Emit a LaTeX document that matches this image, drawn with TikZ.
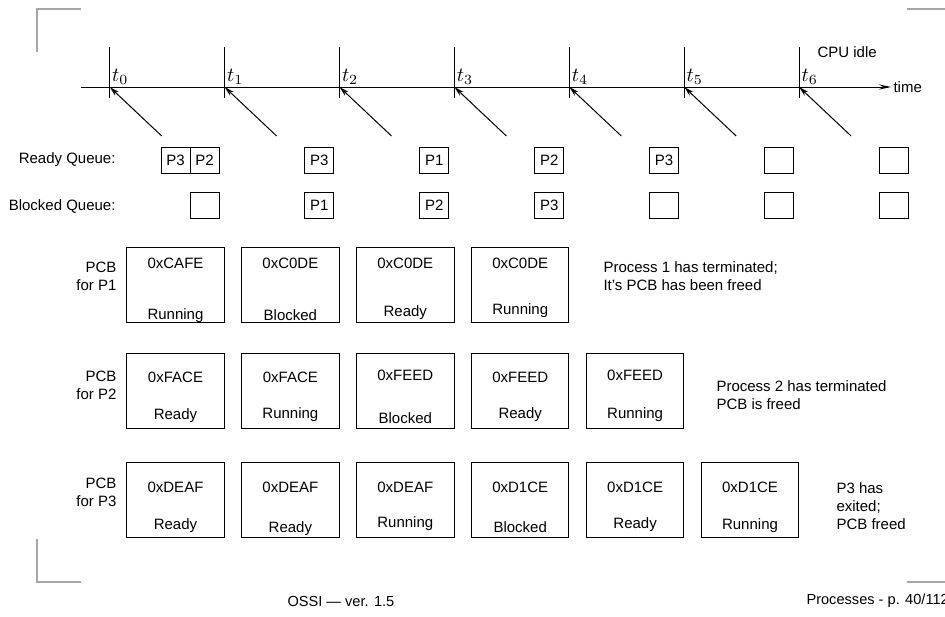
\documentclass[tikz,border=0pt]{standalone}
\usepackage{fontspec}
\setmainfont{Liberation Sans}
\usetikzlibrary{arrows.meta}
\begin{document}
\begin{tikzpicture}[x=0.5pt,y=-0.5pt,line width=0.5pt,
  every node/.style={font=\fontsize{7.5}{9}\selectfont},
  qbox/.style={draw,minimum width=14.5pt,minimum height=13pt,inner sep=0pt},
  pcb/.style={draw,minimum width=48.75pt,minimum height=37.5pt,inner sep=0pt},
  lbl/.style={inner sep=0pt},
  framemark/.style={gray!70,line width=0.8pt},
  arr/.style={-{Stealth[length=5pt,width=2.6pt]}}]
\useasboundingbox (0,0) rectangle (945,616);
% Slide frame
\draw[framemark] (37,52) -- (37,9) -- (81,9);
\draw[framemark] (907,9) -- (945,9);
\draw[framemark] (37,539) -- (37,582) -- (81,582);
\draw[framemark] (907,582) -- (945,582);
% Time axis
\coordinate (tlstart) at (81,87);
\node[anchor=west,inner sep=1pt] (time) at (891,87) {time};
\draw[-{Stealth[length=6pt,width=2.6pt]}] (tlstart) -- (time.west);
\node[lbl,anchor=west] (idle) at (817,52) {CPU idle};
\foreach \i in {0,...,6} {
  \pgfmathsetmacro\tx{109.7+114.9*\i}
  \coordinate (t\i) at (\tx,87);
  \coordinate (src\i) at (\tx+52,136);
  \draw (\tx,47) -- (\tx,98);
  \node[anchor=south west,inner sep=1pt,font=\fontsize{10}{12}\selectfont] (tl\i) at (t\i) {$t_\i$};
  \draw[arr] (src\i) -- (t\i);
}
% Queues
\node[lbl,anchor=east] (rqlab) at (116,160) {Ready Queue:};
\node[lbl,anchor=east] (bqlab) at (116,206) {Blocked Queue:};
\node[qbox] (r0a) at (175.5,160) {P3};
\node[qbox] (r0b) at (204.5,160) {P2};
\foreach \i/\p in {1/P3,2/P1,3/P2,4/P3,5/,6/}
  \node[qbox] (r\i) at (204.5+114.9*\i,160) {\p};
\foreach \i/\p in {0/,1/P1,2/P2,3/P3,4/,5/,6/}
  \node[qbox] (b\i) at (204.5+114.9*\i,205) {\p};
% PCBs of P1
\node[lbl,anchor=east,align=right] (pcblab1) at (117,276) {PCB\\for P1};
\foreach \i/\addr/\st/\sy in {0/0xCAFE/Running/316,1/0xC0DE/Blocked/315,2/0xC0DE/Ready/313,3/0xC0DE/Running/311} {
  \node[pcb] (pa\i) at (175.5+114.9*\i,284.5) {};
  \node[lbl] (pa\i addr) at (175.5+114.9*\i,263) {\addr};
  \node[lbl] (pa\i st) at (175.5+114.9*\i,\sy) {\st};
}
\node[lbl,anchor=west,align=left] (note1) at (603,276) {Process 1 has terminated;\\It's PCB has been freed};
% PCBs of P2
\node[lbl,anchor=east,align=right] (pcblab2) at (117,385) {PCB\\for P2};
\foreach \i/\addr/\ay/\st/\sy in {0/0xFACE/377/Ready/416,1/0xFACE/377/Running/415,2/0xFEED/375/Blocked/418,3/0xFEED/377/Ready/415,4/0xFEED/375/Running/415} {
  \node[pcb] (pb\i) at (175.5+114.9*\i,390.5) {};
  \node[lbl] (pb\i addr) at (175.5+114.9*\i,\ay) {\addr};
  \node[lbl] (pb\i st) at (175.5+114.9*\i,\sy) {\st};
}
\node[lbl,anchor=west,align=left] (note2) at (716,395) {Process 2 has terminated\\PCB is freed};
% PCBs of P3
\node[lbl,anchor=east,align=right] (pcblab3) at (117,492) {PCB\\for P3};
\foreach \i/\addr/\st/\sy in {0/0xDEAF/Ready/526,1/0xDEAF/Ready/529,2/0xDEAF/Running/524,3/0xD1CE/Blocked/527,4/0xD1CE/Ready/525,5/0xD1CE/Running/526} {
  \node[pcb] (pc\i) at (175.5+114.9*\i,500) {};
  \node[lbl] (pc\i addr) at (175.5+114.9*\i,487) {\addr};
  \node[lbl] (pc\i st) at (175.5+114.9*\i,\sy) {\st};
}
\node[lbl,anchor=west,align=left] (note3) at (836,506) {P3 has\\exited;\\PCB freed};
% Footer
\node[lbl,anchor=west,font=\fontsize{7.3}{8}\selectfont] (foot1) at (287,601) {OSSI --- ver. 1.5};
\node[lbl,anchor=west,font=\fontsize{7.3}{8}\selectfont] (foot2) at (806,601) {Processes - p. 40/112};
\end{tikzpicture}
\end{document}
